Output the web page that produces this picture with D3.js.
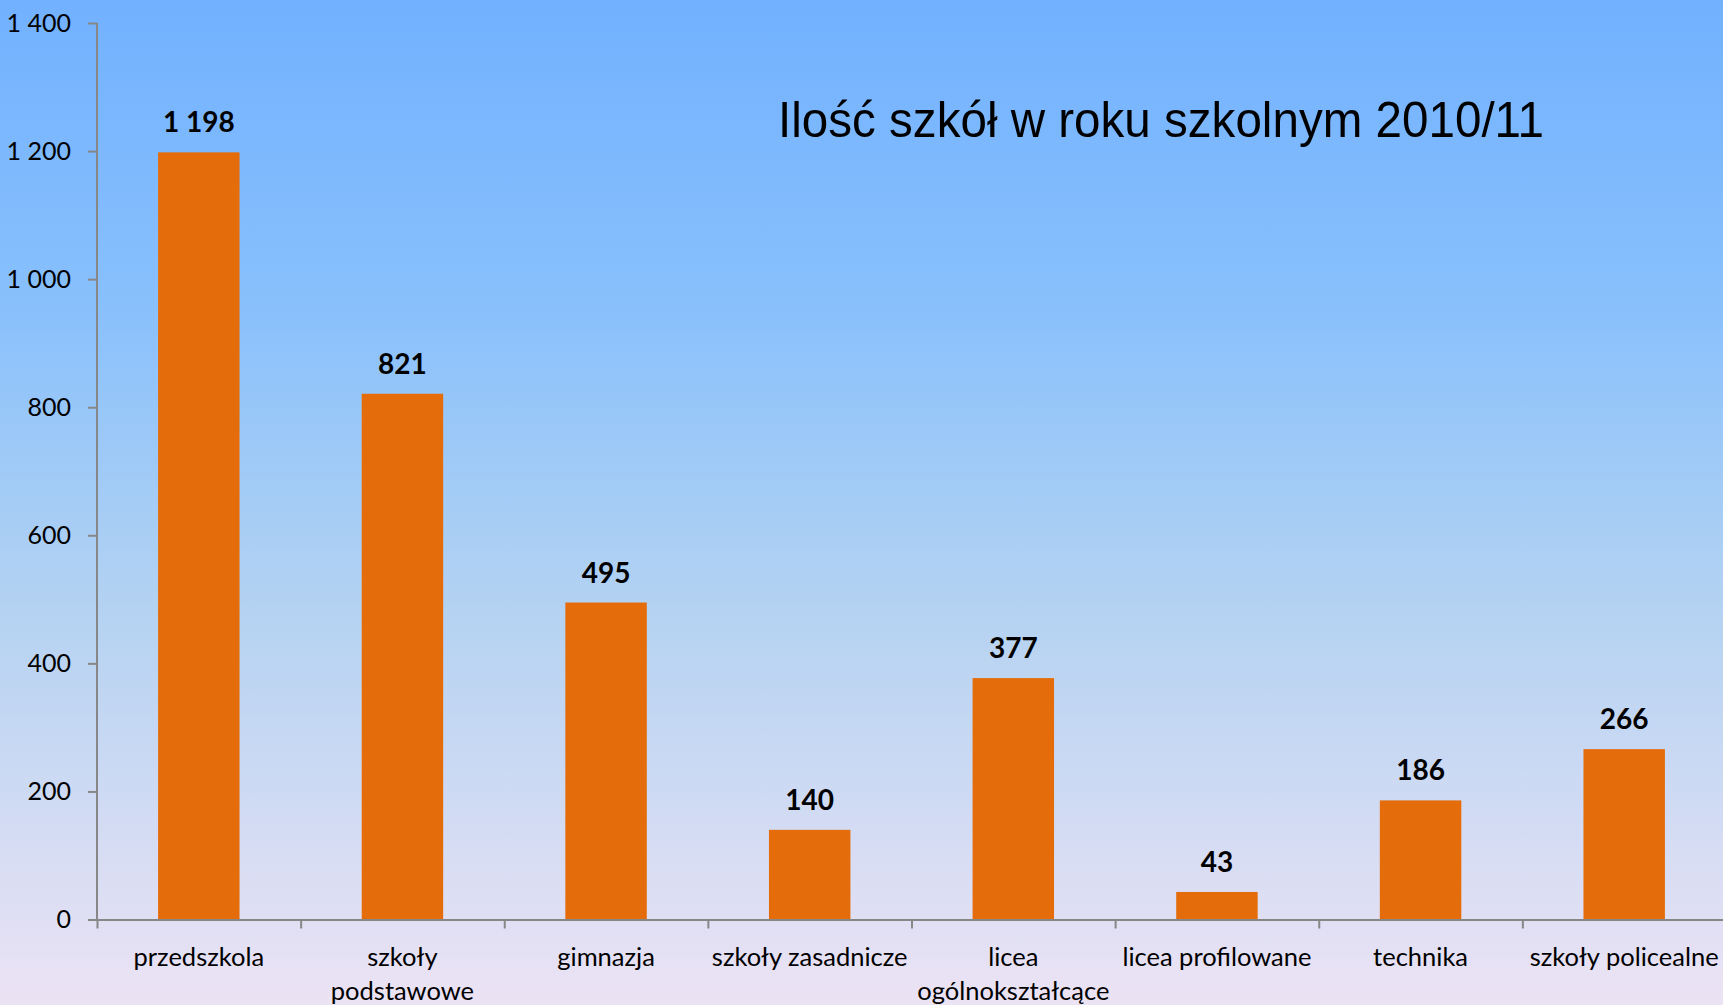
<!DOCTYPE html>
<html>
<head>
<meta charset="utf-8">
<script src="https://cdn.jsdelivr.net/npm/d3@7"></script>
<style>
  html, body { margin: 0; padding: 0; overflow: hidden; }
  text { font-family: Lato, "Open Sans", sans-serif; fill: #000; }
</style>
</head>
<body>
<div id="chart"></div>
<script>
  // values
  var categories = [
    ["przedszkola"],
    ["szkoły", "podstawowe"],
    ["gimnazja"],
    ["szkoły zasadnicze"],
    ["licea", "ogólnokształcące"],
    ["licea profilowane"],
    ["technika"],
    ["szkoły policealne"]
  ];
  var schools = [1198, 821, 495, 140, 377, 43, 186, 266];
  var yTicks = [0, 200, 400, 600, 800, 1000, 1200, 1400];
  var title = "Ilość szkół w roku szkolnym 2010/11";

  (function () {
    var W = 1723, H = 1005,
      plotLeft = 97, plotRight = 1726, plotTop = 23, plotBottom = 919.5;

    var fmt = d3.formatLocale({ decimal: ",", thousands: " ", grouping: [3], currency: ["", ""] }).format(",");

    var svg = d3.select("#chart").append("svg")
      .attr("width", W)
      .attr("height", H);

    var grad = svg.append("defs").append("linearGradient")
      .attr("id", "bg")
      .attr("x1", 0).attr("y1", 0).attr("x2", 0).attr("y2", 1);
    grad.append("stop").attr("offset", "0%").attr("stop-color", "#72b1ff");
    grad.append("stop").attr("offset", "30%").attr("stop-color", "#88c0fc");
    grad.append("stop").attr("offset", "60%").attr("stop-color", "#b3d2f2");
    grad.append("stop").attr("offset", "100%").attr("stop-color", "#ece3f4");

    svg.append("rect")
      .attr("width", W)
      .attr("height", H)
      .attr("fill", "url(#bg)");

    var keys = d3.range(schools.length);

    var x = d3.scaleBand()
      .domain(keys)
      .range([plotLeft, plotRight])
      .paddingInner(0.6)
      .paddingOuter(0.3);

    var xEdges = d3.scaleLinear()
      .domain([0, schools.length])
      .range([plotLeft, plotRight]);

    var y = d3.scaleLinear()
      .domain([0, 1400])
      .range([plotBottom, plotTop]);

    // bars
    svg.append("g").selectAll("rect")
      .data(schools)
      .enter().append("rect")
      .attr("x", function (d, i) { return x(i); })
      .attr("y", function (d) { return y(d); })
      .attr("width", x.bandwidth())
      .attr("height", function (d) { return y(0) - y(d); })
      .attr("fill", "#e46c0a");

    // value labels
    svg.append("g").selectAll("text")
      .data(schools)
      .enter().append("text")
      .attr("x", function (d, i) { return x(i) + x.bandwidth() / 2; })
      .attr("y", function (d) { return y(d) - 20; })
      .attr("text-anchor", "middle")
      .style("font-size", "28px")
      .style("font-weight", "bold")
      .text(function (d) { return fmt(d); });

    // y axis
    var yAxis = svg.append("g")
      .attr("transform", "translate(" + plotLeft + ",0)")
      .call(d3.axisLeft(y)
        .tickValues(yTicks)
        .tickSize(9)
        .tickPadding(17)
        .tickFormat(fmt));

    // x axis, ticks between categories
    var xAxis = svg.append("g")
      .attr("transform", "translate(0," + plotBottom + ")")
      .call(d3.axisBottom(xEdges)
        .tickValues(d3.range(schools.length + 1))
        .tickSize(9)
        .tickSizeOuter(0)
        .tickFormat(""));

    [yAxis, xAxis].forEach(function (g) {
      g.select(".domain").attr("stroke", "#878787").attr("stroke-width", 2);
      g.selectAll(".tick line").attr("stroke", "#878787").attr("stroke-width", 2);
      g.selectAll(".tick text")
        .style("font-family", "Lato, sans-serif")
        .style("font-size", "25px")
        .attr("fill", "#000");
    });
    yAxis.select(".domain").attr("d", "M0," + plotTop + "V" + plotBottom);

    // category labels
    var cat = svg.append("g").selectAll("text")
      .data(categories)
      .enter().append("text")
      .attr("x", function (d, i) { return x(i) + x.bandwidth() / 2; })
      .attr("y", 966)
      .attr("text-anchor", "middle")
      .style("font-size", "25.5px");
    cat.selectAll("tspan")
      .data(function (d) { return d; })
      .enter().append("tspan")
      .attr("x", function () { return d3.select(this.parentNode).attr("x"); })
      .attr("dy", function (d, i) { return i ? 34 : 0; })
      .text(function (d) { return d; });

    // title
    svg.append("text")
      .attr("x", 778)
      .attr("y", 137)
      .attr("textLength", 766)
      .attr("lengthAdjust", "spacingAndGlyphs")
      .style("font-family", "'Liberation Sans', Arial, sans-serif")
      .style("font-size", "50px")
      .text(title);
  }());
</script>
</body>
</html>
